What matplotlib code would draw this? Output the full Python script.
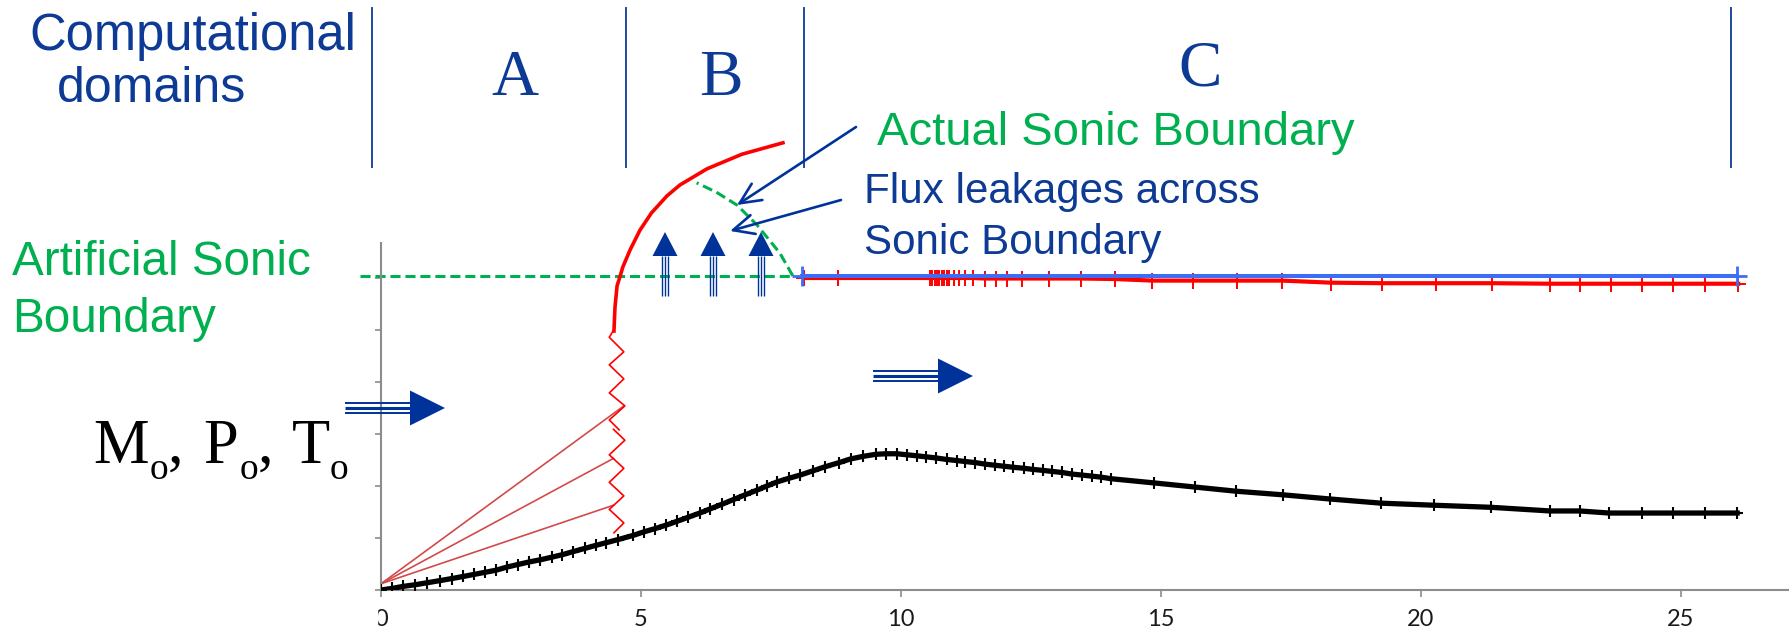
import numpy as np
import matplotlib.pyplot as plt
from matplotlib.patches import Polygon, Rectangle

# ---- data -------------------------------------------------------------
# lower (black) profile along the duct
black_x = [0.00, 0.21, 0.43, 0.65, 0.89, 1.13, 1.36, 1.58, 1.79, 2.00,
           2.21, 2.42, 2.63, 2.85, 3.06, 3.28, 3.49, 3.70, 3.92, 4.14,
           4.33, 4.56, 4.85, 5.06, 5.27, 5.49, 5.69, 5.91, 6.13, 6.33,
           6.56, 6.78, 7.00, 7.23, 7.42, 7.62, 7.85,
           8.06, 8.30, 8.54, 8.81, 9.03, 9.27, 9.52, 9.72, 9.92, 10.12,
           10.31, 10.49, 10.67, 10.88, 11.07, 11.24, 11.43, 11.62, 11.80, 11.98,
           12.16, 12.37, 12.53, 12.73, 12.91, 13.10, 13.28, 13.48, 13.67, 13.85,
           14.04,
           14.86, 15.65, 16.44, 17.35, 18.25, 19.23, 20.25, 21.35, 22.48, 23.05,
           23.62, 24.25, 24.85, 25.46, 26.08]
black_y = [0.00, 0.03, 0.07, 0.10, 0.14, 0.18, 0.22, 0.26, 0.30, 0.34,
           0.38, 0.44, 0.49, 0.54, 0.58, 0.63, 0.68, 0.74, 0.80, 0.86,
           0.91, 0.97, 1.05, 1.12, 1.18, 1.25, 1.32, 1.40, 1.48, 1.56,
           1.65, 1.74, 1.83, 1.92, 2.00, 2.08, 2.15,
           2.21, 2.29, 2.37, 2.45, 2.52, 2.57, 2.61, 2.62, 2.62, 2.60,
           2.58, 2.56, 2.54, 2.51, 2.49, 2.47, 2.45, 2.42, 2.40, 2.38,
           2.36, 2.34, 2.32, 2.30, 2.28, 2.26, 2.23, 2.21, 2.19, 2.17,
           2.14,
           2.06, 1.98, 1.90, 1.83, 1.75, 1.67, 1.63, 1.59, 1.52, 1.52,
           1.48, 1.48, 1.48, 1.48, 1.48]

# upper (red) profile in domain C
red_x = [8.14, 8.79, 10.56, 10.60, 10.65, 10.69, 10.73, 10.78, 10.83, 10.88,
         10.92, 11.02, 11.12, 11.24, 11.38, 11.62, 11.83, 12.04, 12.32, 12.85,
         13.46, 14.12, 14.83, 15.62, 16.46, 17.33, 18.27, 19.25, 20.29, 21.37,
         22.48, 23.06, 23.65, 24.25, 24.85, 25.46, 26.10]
red_y = [6.00, 6.00, 6.00, 6.00, 6.00, 6.00, 6.00, 6.00, 6.00, 6.00,
         6.00, 6.00, 6.00, 6.00, 6.00, 5.99, 5.99, 5.99, 5.99, 5.99,
         5.99, 5.98, 5.95, 5.95, 5.95, 5.95, 5.91, 5.90, 5.90, 5.90,
         5.89, 5.89, 5.89, 5.89, 5.89, 5.89, 5.89]

# sonic level (blue)
blue_x = [8.10, 26.08]
blue_y = [6.04, 6.04]

# red branch rising out of the shock into domain B
arc_x = [4.48, 4.50, 4.54, 4.60, 4.65, 4.79, 4.98, 5.20, 5.50, 5.75, 6.27, 6.94, 7.73]
arc_y = [4.98, 5.44, 5.85, 6.04, 6.21, 6.54, 6.92, 7.25, 7.58, 7.79, 8.10, 8.38, 8.60]

# shock zigzag (two pieces)
zig1_x = [4.48, 4.39, 4.67, 4.39, 4.67, 4.39, 4.69, 4.39, 4.58]
zig1_y = [5.01, 4.86, 4.58, 4.33, 4.06, 3.79, 3.54, 3.27, 3.08]
zig2_x = [4.47, 4.69, 4.39, 4.67, 4.39, 4.67, 4.39, 4.67, 4.48]
zig2_y = [3.09, 2.88, 2.60, 2.34, 2.07, 1.81, 1.55, 1.29, 1.10]

# characteristic fan from the inlet
fan_start = (0.0, 0.12)
fan_end_x = [4.67, 4.47, 4.47]
fan_end_y = [3.54, 2.53, 1.63]

# sonic boundaries
artificial_sonic_x = [-0.40, 7.92]
artificial_sonic_y = [6.04, 6.04]
actual_sonic_x = [7.92, 7.67, 7.23, 6.85, 6.45, 6.07]
actual_sonic_y = [6.04, 6.48, 7.02, 7.40, 7.65, 7.83]

xticks = [0, 5, 10, 15, 20, 25]
domain_names = ['A', 'B', 'C']

# ---- figure -----------------------------------------------------------
W, H = 1789, 636
X0, Y0, PPU = 381, 590, 52          # origin pixel and pixels per unit
fig = plt.figure(figsize=(W / 100, H / 100), dpi=100)

ax = fig.add_axes([X0 / W, (H - Y0) / H, (W - X0) / W, (Y0 - 243) / H])
ax.set_xlim(0, (W - X0) / PPU)
ax.set_ylim(0, (Y0 - 243) / PPU)

navy = '#0d3a94'
arrow_navy = '#00339a'
green = '#00b050'
axis_grey = '#8c8c8c'

for s in ['top', 'right']:
    ax.spines[s].set_visible(False)
for s in ['left', 'bottom']:
    ax.spines[s].set_color(axis_grey)
    ax.spines[s].set_linewidth(1.5)

ax.set_xticks(xticks)
ax.set_xticklabels([str(t) for t in xticks])
ax.set_yticks(range(7))
ax.tick_params(axis='x', length=5, width=1.2, color=axis_grey, pad=9,
               labelsize=17, labelcolor='#1a1a1a', labelfontfamily='Lato')
ax.tick_params(axis='y', length=4, width=1.2, color=axis_grey, labelleft=False)

# fan and shock
for ex, ey in zip(fan_end_x, fan_end_y):
    ax.plot([fan_start[0], ex], [fan_start[1], ey], color='#d24a4a', lw=1.2,
            clip_on=False, zorder=2)
ax.plot(zig1_x, zig1_y, color='red', lw=1.2, zorder=2)
ax.plot(zig2_x, zig2_y, color='red', lw=1.2, zorder=2)
ax.plot(arc_x, arc_y, color='red', lw=2.6, clip_on=False, zorder=3)

# sonic boundaries
ax.plot(artificial_sonic_x, artificial_sonic_y, color=green, lw=2.2,
        dashes=(3.3, 1.6), clip_on=False, zorder=2)
ax.plot(actual_sonic_x, actual_sonic_y, color=green, lw=2.2,
        dashes=(3.3, 1.6), clip_on=False, zorder=2)

# profiles
ax.plot(black_x, black_y, color='black', lw=3.8, marker='+', ms=9, mew=1.5,
        zorder=4)
ax.plot(red_x, red_y, color='red', lw=3.0, marker='+', ms=11, mew=1.4,
        clip_on=False, zorder=4)
ax.plot(blue_x, blue_y, color='#3d6cf5', lw=2.9, marker='+', ms=14, mew=2.0,
        clip_on=False, zorder=5)

# ---- annotations in pixel space --------------------------------------
ov = fig.add_axes([0, 0, 1, 1], zorder=5)
ov.set_xlim(0, W)
ov.set_ylim(H, 0)
ov.axis('off')
ov.patch.set_visible(False)

# the "0" label sits on the left border of the chart
ov.add_patch(Rectangle((0, 606), 377, 30, color='white', zorder=10))

# domain separators
for xv in [372, 626, 804, 1731]:
    ov.plot([xv, xv], [8, 167], color='#1f4aa0', lw=1.4)

sans = 'Liberation Sans'
serif = 'Liberation Serif'
ov.text(29, 50, 'Computational', color=navy, fontsize=36.5, family=sans,
        va='baseline')
ov.text(57, 102, 'domains', color=navy, fontsize=36, family=sans,
        va='baseline')
for name, xc, yb in zip(domain_names, [515, 721, 1200], [95, 95, 86]):
    ov.text(xc, yb, name, color=navy, fontsize=47, family=serif,
            ha='center', va='baseline')

ov.text(877, 145, 'Actual Sonic Boundary', color=green, fontsize=34,
        family=sans, va='baseline')
ov.text(864, 203, 'Flux leakages across', color=navy, fontsize=30.3,
        family=sans, va='baseline')
ov.text(864, 254, 'Sonic Boundary', color=navy, fontsize=30.3,
        family=sans, va='baseline')
ov.text(12, 275, 'Artificial Sonic', color=green, fontsize=34.3,
        family=sans, va='baseline')
ov.text(12, 332, 'Boundary', color=green, fontsize=34.3,
        family=sans, va='baseline')

# M_o, P_o, T_o
for letter, xl, xs, xc in [('M', 93, 150, 168), ('P', 203, 240, 258),
                           ('T', 292, 330, None)]:
    ov.text(xl, 463, letter, fontsize=45, family=serif, va='baseline')
    ov.text(xs, 479, 'o', fontsize=27, family=serif, va='baseline')
    if xc is not None:
        ov.text(xc, 463, ',', fontsize=45, family=serif, va='baseline')

# pointer arrows
for start, end in [((856, 127), (737, 205)), ((841, 200), (730, 231))]:
    ov.annotate('', xy=end, xytext=start,
                arrowprops=dict(arrowstyle='->,head_length=1.5,head_width=0.7',
                                color=arrow_navy, lw=1.9,
                                shrinkA=0, shrinkB=0))


def right_arrow(x_start, x_head, x_tip, yc):
    for dy, lw in [(-4.8, 1.4), (0, 2.2), (4.8, 1.4)]:
        ov.plot([x_start, x_head], [yc + dy, yc + dy], color=arrow_navy, lw=lw,
                solid_capstyle='butt')
    ov.add_patch(Polygon([(x_head, yc - 17.5), (x_head, yc + 17.5), (x_tip, yc)],
                         closed=True, color=arrow_navy, lw=0))


def up_arrow(xc, y_base, y_head, y_tip):
    for dx in [-2.6, 0, 2.6]:
        ov.plot([xc + dx, xc + dx], [y_base, y_head], color=arrow_navy, lw=1.0,
                solid_capstyle='butt')
    ov.add_patch(Polygon([(xc - 12.5, y_head), (xc + 12.5, y_head), (xc, y_tip)],
                         closed=True, color=arrow_navy, lw=0))


right_arrow(345, 410, 445, 408)
right_arrow(873, 938, 973, 376)
for xc in [665, 713, 761]:
    up_arrow(xc, 296, 256, 232)

fig.savefig('out.png', dpi=100)
